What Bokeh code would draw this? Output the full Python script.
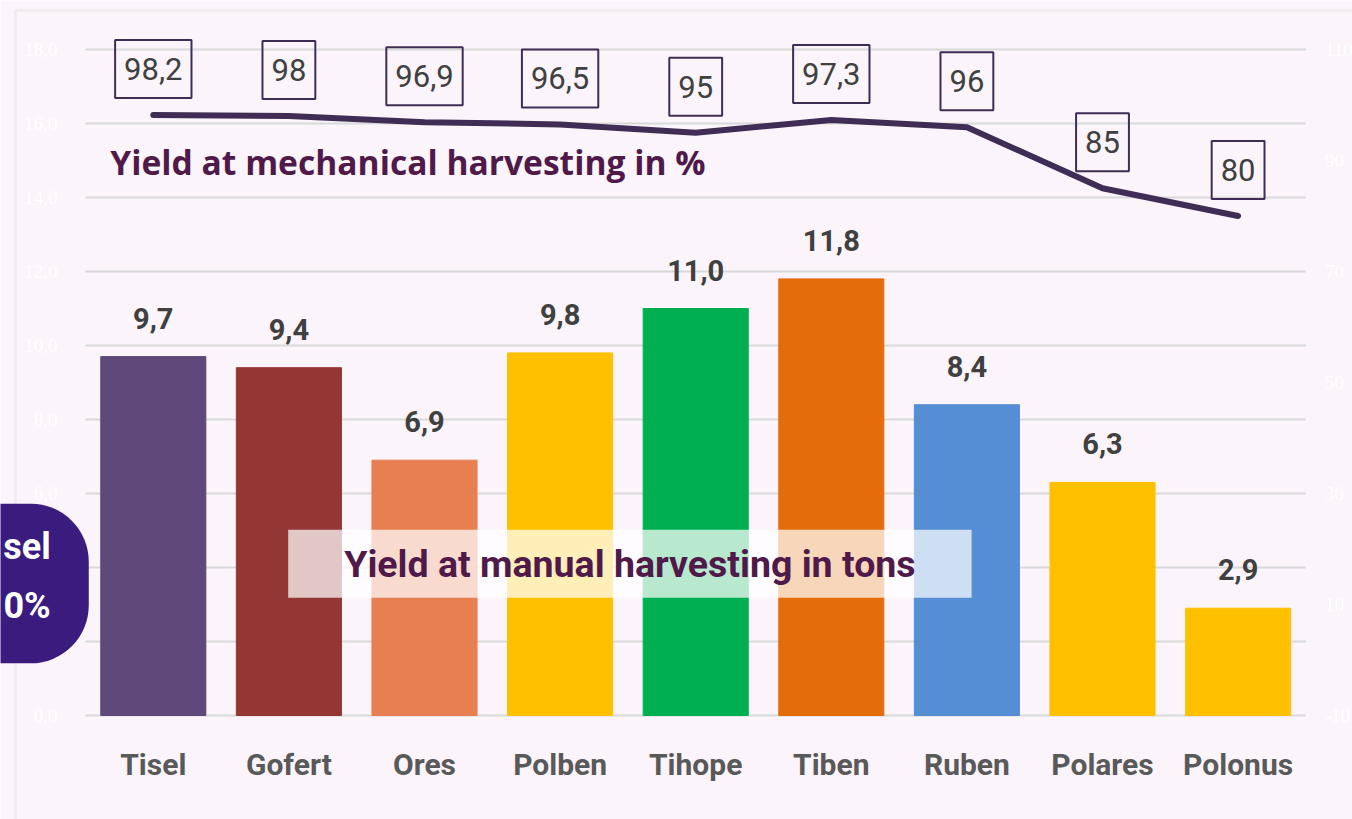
from bokeh.plotting import figure
from bokeh.models import (ColumnDataSource, Range1d, LinearAxis,
                          FixedTicker, Label, LabelSet, BoxAnnotation)
from bokeh.embed import file_html
from bokeh.resources import INLINE
from bokeh.core.properties import value

# ---------------- data ----------------
varieties = ["Tisel", "Gofert", "Ores", "Polben", "Tihope", "Tiben", "Ruben", "Polares", "Polonus"]
manual_tons = [9.7, 9.4, 6.9, 9.8, 11.0, 11.8, 8.4, 6.3, 2.9]
manual_labels = ["9,7", "9,4", "6,9", "9,8", "11,0", "11,8", "8,4", "6,3", "2,9"]
mechanical_pct = [98.2, 98, 96.9, 96.5, 95, 97.3, 96, 85, 80]
mechanical_labels = ["98,2", "98", "96,9", "96,5", "95", "97,3", "96", "85", "80"]
bar_colors = ["#5F497A", "#943634", "#E77F51", "#FFC000", "#00B050",
              "#E46C0A", "#558ED5", "#FFC000", "#FFC000"]
left_ticks = [0, 2, 4, 6, 8, 10, 12, 14, 16, 18]
left_tick_labels = ["0,0", "2,0", "4,0", "6,0", "8,0", "10,0", "12,0", "14,0", "16,0", "18,0"]
right_ticks = [-10, 10, 30, 50, 70, 90, 110]
right_tick_labels = ["-10", "10", "30", "50", "70", "90", "110"]

BG = "#FBF4FA"
PURPLE_TEXT = "#4F1A4A"
LINE_COL = "#3F2D55"

W, H = 1352, 819
# layout of the plotting area (pixels): categories from 85 to 1305, value 0 at 715, 37 px per ton
PX_CAT = 135.6
PX_TON = 37.0
LEFT_PX, ZERO_PX = 85, 715
n = len(varieties)
positions = list(range(n))

x_start = -0.5 - LEFT_PX / PX_CAT
x_end = x_start + W / PX_CAT
y_start = -(H - ZERO_PX) / PX_TON
y_end = ZERO_PX / PX_TON
pct_per_ton = 120 / 18
r_start = -10 + y_start * pct_per_ton
r_end = -10 + y_end * pct_per_ton

src = ColumnDataSource(dict(x=positions, v=varieties, tons=manual_tons, tl=manual_labels,
                            pct=mechanical_pct, pl=mechanical_labels, c=bar_colors))

p = figure(width=W, height=H, x_range=Range1d(x_start, x_end),
           y_range=Range1d(y_start, y_end), output_backend="svg", toolbar_location=None,
           min_border=0, background_fill_color=BG, border_fill_color=BG,
           outline_line_color=None, x_axis_location=None, y_axis_location=None)
p.extra_y_ranges = {"right": Range1d(r_start, r_end)}
p.grid.visible = False

# outer frame of the slide (canvas units, y downwards)
p.add_layout(BoxAnnotation(left=15, right=W + 60, top=10, bottom=H + 60,
                           left_units="canvas", right_units="canvas",
                           top_units="canvas", bottom_units="canvas",
                           fill_alpha=0, line_color="#DCDCDC", line_width=3))

# left axis
ya = LinearAxis(ticker=FixedTicker(ticks=left_ticks), fixed_location=-0.5)
ya.major_label_overrides = {t: l for t, l in zip(left_ticks, left_tick_labels)}
ya.axis_line_color = None
ya.major_tick_line_color = None
ya.minor_tick_line_color = None
ya.major_label_text_color = "#FFFFFF"
ya.major_label_text_font = "Liberation Serif"
ya.major_label_text_font_size = "19px"
ya.major_label_standoff = 22
p.add_layout(ya, "left")

# right axis
ra = LinearAxis(y_range_name="right", ticker=FixedTicker(ticks=right_ticks),
                fixed_location=n - 0.5)
ra.major_label_overrides = {t: l for t, l in zip(right_ticks, right_tick_labels)}
ra.axis_line_color = None
ra.major_tick_line_color = None
ra.minor_tick_line_color = None
ra.major_label_text_color = "#FFFFFF"
ra.major_label_text_font = "Liberation Serif"
ra.major_label_text_font_size = "19px"
ra.major_label_standoff = 13
p.add_layout(ra, "right")

# category axis
xa = LinearAxis(ticker=FixedTicker(ticks=positions), fixed_location=0)
xa.major_label_overrides = {i: v for i, v in zip(positions, varieties)}
xa.axis_line_color = None
xa.major_tick_line_color = None
xa.minor_tick_line_color = None
xa.major_label_text_font = "Roboto"
xa.major_label_text_font_style = "bold"
xa.major_label_text_font_size = "30px"
xa.major_label_text_color = "#595959"
xa.major_label_standoff = 25
p.add_layout(xa, "below")

# horizontal grid lines across the category span
p.segment(x0=[-0.5] * len(left_ticks), x1=[n - 0.5] * len(left_ticks),
          y0=left_ticks, y1=left_ticks, line_color="#D9D9D9", line_width=2)

# bars
p.vbar(x="x", top="tons", width=0.775, color="c", source=src)

p.add_layout(LabelSet(x="x", y="tons", text="tl", source=src, y_offset=28,
                      text_align="center", text_baseline="alphabetic",
                      text_font=value("Roboto"), text_font_style="bold",
                      text_font_size="29px", text_color="#404040"))

# line
p.line(x="x", y="pct", source=src, y_range_name="right", line_width=6,
       line_color=LINE_COL, line_join="round", line_cap="round")

p.text(x="x", y="pct", text="pl", source=src, y_range_name="right", y_offset=-46,
       text_align="center", text_baseline="middle", text_font=value("Roboto"),
       text_font_size="31px", text_color="#404040",
       border_line_color=LINE_COL, border_line_width=2,
       padding=dict(left=9, right=9, top=18, bottom=18))

# series titles
p.text(x=[0], y=[14.95], text=["Yield at mechanical harvesting in %"], x_offset=-43,
       text_align="left", text_baseline="middle", text_font=value("Open Sans"),
       text_font_style="bold", text_font_size="33.6px", text_color=PURPLE_TEXT)

p.text(x=[3.5], y=[4.1], text=["Yield at manual harvesting in tons"], x_offset=2,
       text_align="center", text_baseline="middle", text_font=value("Roboto"),
       text_font_style="bold", text_font_size="37.5px", text_color=PURPLE_TEXT,
       background_fill_color="white", background_fill_alpha=0.72,
       padding=dict(left=56, right=56, top=12, bottom=12))

# blob badge on the left (cropped at the picture's edge in the original)
p.add_layout(Label(x=-1.086, y=3.567, text="sel\n0%", text_align="center",
                   text_baseline="middle", text_font="Roboto", text_font_style="bold",
                   text_font_size="36px", text_color="white", text_line_height=1.42,
                   background_fill_color="#3A1B7E",
                   padding=dict(left=80, right=38, top=22, bottom=36), border_radius=58))

html = file_html(p, INLINE)
html = html.replace("<body>", '<body style="background-color:%s;">' % BG, 1)
open("out.html", "w").write(html)
